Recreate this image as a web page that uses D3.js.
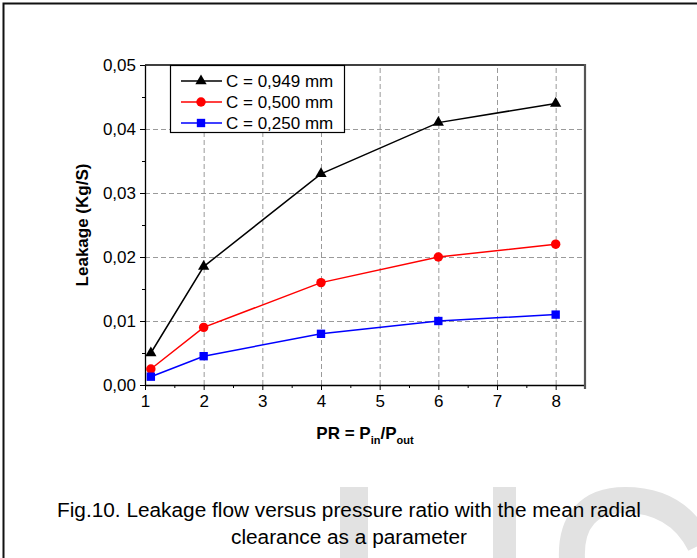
<!DOCTYPE html>
<html>
<head>
<meta charset="utf-8">
<title>Leakage flow versus pressure ratio</title>
<script src="https://cdnjs.cloudflare.com/ajax/libs/d3/7.8.5/d3.min.js"></script>
<style>
body { margin: 0; background: #fff; }
text { font-family: "Liberation Sans", Arial, sans-serif; fill: #000; }
.grid line { stroke: #9a9a9a; stroke-dasharray: 5,3; }
.caption { font-family: "Liberation Sans Narrow", "Liberation Sans", Arial, sans-serif; }
</style>
</head>
<body>
<svg id="vis" width="697" height="558"></svg>
<script>
// data
var pr = [1.1, 2, 4, 6, 8];
var leak949 = [0.005, 0.0185, 0.033, 0.041, 0.044];
var leak500 = [0.0025, 0.009, 0.016, 0.020, 0.022];
var leak250 = [0.0013, 0.0045, 0.008, 0.010, 0.011];
var seriesNames = ["C = 0,949 mm", "C = 0,500 mm", "C = 0,250 mm"];
var xTicks = [1, 2, 3, 4, 5, 6, 7, 8];
var yTicks = [0, 0.01, 0.02, 0.03, 0.04, 0.05];

var series = [
  {name: seriesNames[0], values: leak949, color: "#000000", symbol: d3.symbolTriangle},
  {name: seriesNames[1], values: leak500, color: "#ff0000", symbol: d3.symbolCircle},
  {name: seriesNames[2], values: leak250, color: "#0000ff", symbol: d3.symbolSquare}
];

var svg = d3.select("#vis");
var pLeft = 145, pRight = 585, pTop = 65, pBottom = 385;

var x = d3.scaleLinear().domain([1, 8.5]).range([pLeft, pRight]);
var y = d3.scaleLinear().domain([0, 0.05]).range([pBottom, pTop]);
var comma = d3.formatLocale({decimal: ",", thousands: ".", grouping: [3], currency: ["", ""]}).format(".2f");

// watermark
var wm = svg.append("g").attr("fill", "#e2e2e2");
wm.append("rect").attr("x", 340).attr("y", 487).attr("width", 28).attr("height", 80);
wm.append("rect").attr("x", 493).attr("y", 487).attr("width", 23).attr("height", 80);
wm.append("path")
  .attr("fill", "none").attr("stroke", "#e2e2e2").attr("stroke-width", 26)
  .attr("d", "M572,560 C570,520 590,500 625,500 C660,500 685,515 700,545");

// outer frame
svg.append("rect")
  .attr("x", 3.5).attr("y", 3.5).attr("width", 720).attr("height", 580)
  .attr("fill", "none").attr("stroke", "#111").attr("stroke-width", 2);

// grid
svg.append("g").attr("class", "grid")
  .attr("transform", `translate(0,${pBottom})`)
  .call(d3.axisBottom(x).tickValues(xTicks.slice(1)).tickSize(-(pBottom - pTop)).tickFormat(""))
  .call(g => g.select(".domain").remove());
svg.append("g").attr("class", "grid")
  .attr("transform", `translate(${pLeft},0)`)
  .call(d3.axisLeft(y).tickValues(yTicks.slice(1, -1)).tickSize(-(pRight - pLeft)).tickFormat(""))
  .call(g => g.select(".domain").remove());

// minor ticks
svg.append("g")
  .attr("transform", `translate(0,${pBottom})`)
  .call(d3.axisBottom(x).tickValues(d3.range(1.5, 8.5, 1)).tickSize(3).tickFormat(""))
  .call(g => g.select(".domain").remove());
svg.append("g")
  .attr("transform", `translate(${pLeft},0)`)
  .call(d3.axisLeft(y).tickValues(d3.range(0.005, 0.05, 0.01)).tickSize(3).tickFormat(""))
  .call(g => g.select(".domain").remove());

// axes
var xAxis = svg.append("g")
  .attr("transform", `translate(0,${pBottom})`)
  .call(d3.axisBottom(x).tickValues(xTicks).tickSize(5).tickSizeOuter(0).tickFormat(d3.format("d")));
xAxis.selectAll("text").attr("font-size", 17).attr("y", 9).attr("dy", "0.78em");

var yAxis = svg.append("g")
  .attr("transform", `translate(${pLeft},0)`)
  .call(d3.axisLeft(y).tickValues(yTicks).tickSize(5).tickSizeOuter(0).tickFormat(comma));
yAxis.selectAll("text").attr("font-size", 17).attr("x", -9);

svg.selectAll(".domain").attr("stroke", "#000").attr("stroke-width", 1.3);

// plot frame top/right
svg.append("line").attr("x1", pLeft).attr("x2", pRight).attr("y1", pTop).attr("y2", pTop)
  .attr("stroke", "#000").attr("stroke-width", 1.3);
svg.append("line").attr("x1", pRight).attr("x2", pRight).attr("y1", pTop - 1).attr("y2", pBottom + 4)
  .attr("stroke", "#555").attr("stroke-width", 2.2);

// series
var line = d3.line().x((d, i) => x(pr[i])).y(d => y(d));
series.forEach(function (s) {
  svg.append("path").datum(s.values)
    .attr("fill", "none").attr("stroke", s.color).attr("stroke-width", 1.5)
    .attr("d", line);
  svg.selectAll(null).data(s.values).enter().append("path")
    .attr("transform", (d, i) => `translate(${x(pr[i])},${y(d)})`)
    .attr("d", d3.symbol().type(s.symbol).size(s.symbol === d3.symbolTriangle ? 55 : 70))
    .attr("fill", s.color);
});

// legend
var legend = svg.append("g");
legend.append("rect").attr("x", 170.5).attr("y", 65.5).attr("width", 174).attr("height", 67)
  .attr("fill", "#fff").attr("stroke", "#000").attr("stroke-width", 1.2);
series.forEach(function (s, i) {
  var ly = 81 + i * 21;
  legend.append("line").attr("x1", 181).attr("x2", 222).attr("y1", ly).attr("y2", ly)
    .attr("stroke", s.color).attr("stroke-width", 1.5);
  legend.append("path").attr("transform", `translate(201,${ly})`)
    .attr("d", d3.symbol().type(s.symbol).size(s.symbol === d3.symbolTriangle ? 55 : 70))
    .attr("fill", s.color);
  legend.append("text").attr("x", 226).attr("y", ly + 6).attr("font-size", 17).text(s.name);
});

// axis titles
svg.append("text")
  .attr("transform", `translate(88,${(pTop + pBottom) / 2}) rotate(-90)`)
  .attr("text-anchor", "middle").attr("font-size", 17).attr("font-weight", "bold")
  .text("Leakage (Kg/S)");

var xt = svg.append("text").attr("x", 365).attr("y", 439)
  .attr("text-anchor", "middle").attr("font-size", 17).attr("font-weight", "bold");
xt.append("tspan").text("PR = P");
xt.append("tspan").attr("font-size", 11).attr("dy", 5).text("in");
xt.append("tspan").attr("dy", -5).text("/P");
xt.append("tspan").attr("font-size", 11).attr("dy", 5).text("out");

// caption
svg.append("text").attr("class", "caption")
  .attr("x", 349).attr("y", 517).attr("text-anchor", "middle").attr("font-size", 20)
  .attr("textLength", 584).attr("lengthAdjust", "spacingAndGlyphs")
  .text("Fig.10. Leakage flow versus pressure ratio with the mean radial");
svg.append("text").attr("class", "caption")
  .attr("x", 349).attr("y", 544).attr("text-anchor", "middle").attr("font-size", 20)
  .attr("textLength", 236).attr("lengthAdjust", "spacingAndGlyphs")
  .text("clearance as a parameter");
</script>
</body>
</html>
